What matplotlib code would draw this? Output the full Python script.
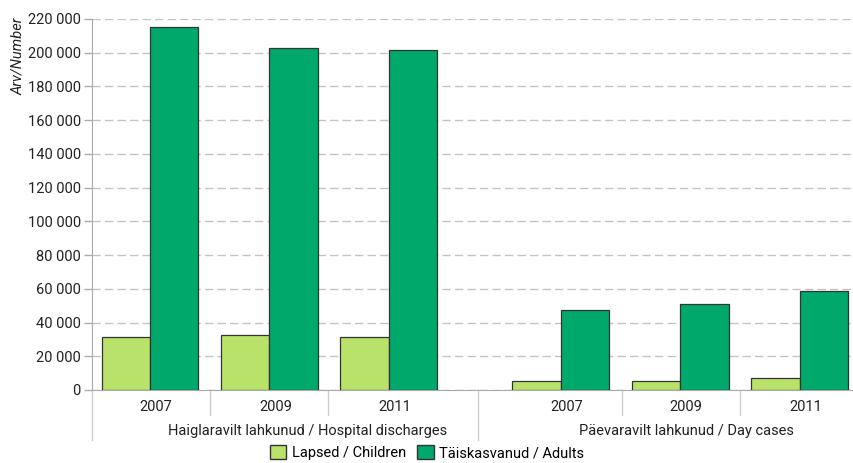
import matplotlib.pyplot as plt
import numpy as np
from matplotlib.ticker import FuncFormatter, MultipleLocator
from matplotlib.patches import Patch

plt.rcParams['font.family'] = ['Roboto', 'DejaVu Sans']

years = ['2007', '2009', '2011']
groups = ['Haiglaravilt lahkunud / Hospital discharges', 'Päevaravilt lahkunud / Day cases']
hosp_children = [31400, 32600, 31400]
hosp_adults = [215500, 202800, 201800]
day_children = [5500, 5500, 7000]
day_adults = [47600, 51200, 58900]

c_child = '#b9e26a'
c_adult = '#00a86b'
edge = '#333333'

fig = plt.figure(figsize=(8.54, 4.63), dpi=100)
ax = fig.add_axes([0.1077, 0.1577, 0.89, 0.8013])

# slot positions: hospital 0,1,2 ; day cases shifted by a gap
x_h = np.arange(3)
x_d = np.arange(3) + 3.44
w = 0.406

for xs, ch, ad in [(x_h, hosp_children, hosp_adults), (x_d, day_children, day_adults)]:
    ax.bar(xs - w / 2, ch, w, color=c_child, edgecolor=edge, linewidth=0.9, zorder=3)
    ax.bar(xs + w / 2, ad, w, color=c_adult, edgecolor=edge, linewidth=0.9, zorder=3)

ax.set_xlim(-0.486, 5.88)
ax.set_ylim(0, 220000)
ax.yaxis.set_major_locator(MultipleLocator(20000))
ax.yaxis.set_major_formatter(FuncFormatter(lambda v, p: f"{int(v):,}".replace(",", " ")))
ax.tick_params(axis='y', labelsize=10.5, colors='#aaaaaa', labelcolor='#222222', length=6, width=1, pad=2)
ax.set_xticks([])
ax.grid(axis='y', linestyle=(0, (6, 3)), color='#c4c4c4', linewidth=1, zorder=0)
for s in ['top', 'right']:
    ax.spines[s].set_visible(False)
ax.spines['left'].set_color('#aaaaaa')
ax.spines['bottom'].set_color('#aaaaaa')

# category labels and divider lines below axis
tr = ax.get_xaxis_transform()
for xs in (x_h, x_d):
    for xi, y in zip(xs, years):
        ax.text(xi + 0.05, -0.047, y, transform=tr, ha='center', va='center', fontsize=10.5, color='#222222')
ax.text(1.32, -0.11, groups[0], transform=tr, ha='center', va='center', fontsize=10.5, color='#222222')
ax.text(4.49, -0.11, groups[1], transform=tr, ha='center', va='center', fontsize=10.5, color='#222222')

short = [0.5, 1.49, 3.95, 4.94]
long_ = [-0.486, 2.75]
for xv in short:
    ax.plot([xv, xv], [0, -0.068], transform=tr, color='#cccccc', lw=1, clip_on=False)
for xv in long_:
    ax.plot([xv, xv], [0, -0.135], transform=tr, color='#cccccc', lw=1, clip_on=False)

fig.text(0.021, 0.962, 'Arv/Number', rotation=90, ha='center', va='top',
         fontsize=10.5, style='italic', color='#222222')

handles = [Patch(facecolor=c_child, edgecolor=edge, label='Lapsed / Children'),
           Patch(facecolor=c_adult, edgecolor=edge, label='Täiskasvanud / Adults')]
fig.legend(handles=handles, loc='lower center', bbox_to_anchor=(0.5, -0.022), ncol=2,
           frameon=False, fontsize=10.5, handlelength=1.1, handleheight=1.1,
           handletextpad=0.4, columnspacing=0.8)

fig.savefig('out.png', dpi=100)
